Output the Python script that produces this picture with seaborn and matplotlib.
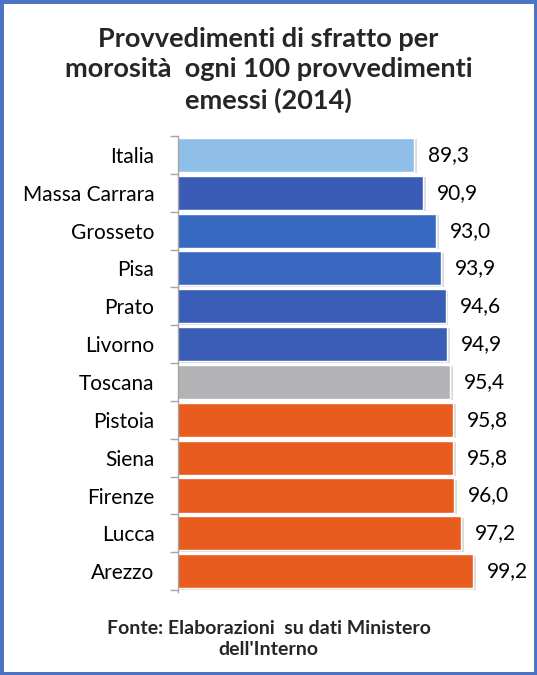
import matplotlib
matplotlib.use("Agg")
import matplotlib.pyplot as plt
import matplotlib.patheffects as pe
from matplotlib.patches import Rectangle
import seaborn as sns
import pandas as pd
import numpy as np

categories = ["Italia", "Massa Carrara", "Grosseto", "Pisa", "Prato", "Livorno",
              "Toscana", "Pistoia", "Siena", "Firenze", "Lucca", "Arezzo"]
values = [89.3, 90.9, 93.0, 93.9, 94.6, 94.9, 95.4, 95.8, 95.8, 96.0, 97.2, 99.2]
colors = ["#8FBFE9", "#3A5CB6", "#3769C0", "#3A67BF", "#3A5DB7", "#3A5DB6",
          "#B3B3B5", "#E85C1E", "#E85C1E", "#E85C1E", "#E85C1E", "#E85C1E"]

df = pd.DataFrame({"cat": categories, "val": values})

sns.set_theme(style="white")
plt.rcParams['font.family'] = ['Lato', 'DejaVu Sans']

fig = plt.figure(figsize=(5.37, 6.75), dpi=100)
ax = fig.add_axes([178/537, 1 - 592/675, 300/537, (592 - 136)/675])

sns.barplot(data=df, x="val", y="cat", hue="cat", palette=colors, orient="h",
            width=0.9, legend=False, ax=ax, saturation=1)

for p in ax.patches:
    p.set_path_effects([pe.SimplePatchShadow(offset=(2, -1), shadow_rgbFace="#bbbbbb", alpha=0.5), pe.Normal()])

ax.set_xlim(50, 100)
ax.set_ylim(11.5 + 0.05, -0.5)
ax.set_xlabel("")
ax.set_ylabel("")
ax.set_xticks([])
for s in ["top", "right", "bottom"]:
    ax.spines[s].set_visible(False)
ax.spines["left"].set_color("#A6A6A6")
ax.spines["left"].set_linewidth(1)
ax.tick_params(axis="y", which="major", length=0, labelsize=15, pad=17, colors="black")
ax.set_yticks(np.arange(-0.5, 12, 1), minor=True)
ax.tick_params(axis="y", which="minor", length=6, color="#A6A6A6", width=1, left=True)

for i, v in enumerate(values):
    ax.text(v + 2.3, i, f"{v:.1f}".replace(".", ","), va="center", ha="left",
            fontsize=15, color="black")

fig.text(0.5, 1 - 27/675, "Provvedimenti di sfratto per\nmorosità  ogni 100 provvedimenti\nemessi (2014)",
         ha="center", va="top", fontsize=19.5, fontweight="bold", linespacing=1.3)
fig.text(0.5, 1 - 639/675, "Fonte: Elaborazioni  su dati Ministero\ndell'Interno",
         ha="center", va="center", fontsize=14, fontweight="bold", linespacing=1.25)

fig.patches.append(Rectangle((0, 0), 1, 1, transform=fig.transFigure, fill=False,
                             edgecolor="#4A73C2", linewidth=5))

fig.savefig("out.png", dpi=100)
